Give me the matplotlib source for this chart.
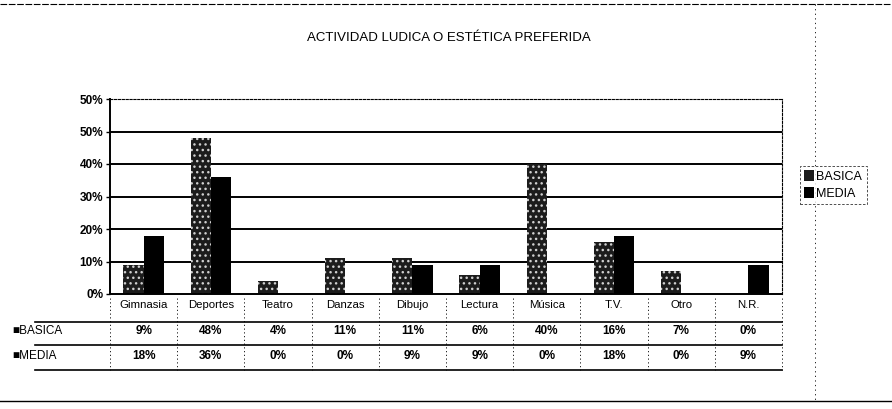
import numpy as np
import matplotlib
matplotlib.use("Agg")
import matplotlib.pyplot as plt
from matplotlib.lines import Line2D
from matplotlib.patches import Patch

plt.rcParams['font.family'] = ['Liberation Sans', 'DejaVu Sans']

# ── data ──────────────────────────────────────────────────────────────────
categories = ["Gimnasia", "Deportes", "Teatro", "Danzas", "Dibujo",
              "Lectura", "Música", "T.V.", "Otro", "N.R."]
basica = [9, 48, 4, 11, 11, 6, 40, 16, 7, 0]
media = [18, 36, 0, 0, 9, 9, 0, 18, 0, 9]
series_names = ["BASICA", "MEDIA"]
y_ticks = [0, 10, 20, 30, 40, 50, 60]
y_tick_labels = ["0%", "10%", "20%", "30%", "40%", "50%", "50%"]
title = "ACTIVIDAD LUDICA O ESTÉTICA PREFERIDA"

W, H = 892, 409


def fx(px):
    return px / W


def fy(py):
    return 1 - py / H


fig = plt.figure(figsize=(W / 100, H / 100), dpi=100, facecolor='white')
ax = fig.add_axes([fx(110), fy(294), fx(782) - fx(110), fy(99) - fy(294)])

x = np.arange(len(categories))
bw = 0.3
ax.bar(x - bw / 2, basica, bw, color='#1c1c1c', lw=0)
ax.bar(x - bw / 2, basica, bw, facecolor='none', edgecolor='#cfcfcf',
       hatch='...', lw=0)
ax.bar(x + bw / 2, media, bw, color='black', lw=0)

ax.set_xlim(-0.5, len(categories) - 0.5)
ax.set_ylim(0, 60)
ax.set_yticks(y_ticks)
ax.set_yticklabels(y_tick_labels, fontsize=8.5, fontweight='bold')
ax.set_xticks([])
ax.tick_params(axis='y', length=3, width=1, pad=2)
for g in y_ticks[1:-1]:
    ax.axhline(g, color='black', lw=1.4, zorder=0.5)
ax.spines['left'].set_linewidth(1.4)
ax.spines['bottom'].set_linewidth(1.4)
for s in ('top', 'right'):
    ax.spines[s].set_linestyle((0, (2, 1.5)))
    ax.spines[s].set_linewidth(0.8)

# title
fig.text(fx(449), fy(38), title, ha='center', va='center', fontsize=9.5)

# ── data table under the axis ─────────────────────────────────────────────
tr = matplotlib.transforms.blended_transform_factory(ax.transData, fig.transFigure)
row_y = [305, 331, 356]
for i, c in enumerate(categories):
    ax.text(i, fy(row_y[0]), c, transform=tr, ha='center', va='center',
            fontsize=8.2, clip_on=False)
    ax.text(i, fy(row_y[1]), f"{basica[i]}%", transform=tr, ha='center',
            va='center', fontsize=8.5, fontweight='bold', clip_on=False)
    ax.text(i, fy(row_y[2]), f"{media[i]}%", transform=tr, ha='center',
            va='center', fontsize=8.5, fontweight='bold', clip_on=False)

for k, name in enumerate(series_names):
    fig.text(fx(12), fy(row_y[k + 1]), "■" + name, ha='left', va='center',
             fontsize=8.5)

for ly in (322, 345, 370):
    fig.add_artist(Line2D([fx(35), fx(782)], [fy(ly), fy(ly)],
                          color='black', lw=1.2))
for b in np.arange(-0.5, len(categories) + 0.5, 1.0):
    ax.plot([b, b], [fy(298), fy(370)], transform=tr, color='black',
            lw=0.6, ls=(0, (1.5, 3)), clip_on=False)

# ── frame lines of the scanned page ───────────────────────────────────────
fig.add_artist(Line2D([0, 1], [fy(4), fy(4)], color='black', lw=0.8,
                      ls=(0, (6, 1.5))))
fig.add_artist(Line2D([0, 1], [fy(401), fy(401)], color='black', lw=1.0))
fig.add_artist(Line2D([fx(815), fx(815)], [fy(4), fy(401)], color='black',
                      lw=0.6, ls=(0, (1.5, 4))))

# legend
handles = [Patch(facecolor='#1c1c1c', edgecolor='none'),
           Patch(facecolor='black', edgecolor='none')]
leg = fig.legend(handles, series_names, loc='center left',
                 bbox_to_anchor=(fx(800), fy(185)), fontsize=9,
                 frameon=True, fancybox=False, handlelength=0.8,
                 handleheight=1.0, handletextpad=0.15, borderpad=0.35,
                 labelspacing=0.35, borderaxespad=0)
leg.get_frame().set_edgecolor('black')
leg.get_frame().set_linewidth(0.6)
leg.get_frame().set_linestyle((0, (3, 2)))

fig.savefig("out.png", dpi=100, facecolor='white')
